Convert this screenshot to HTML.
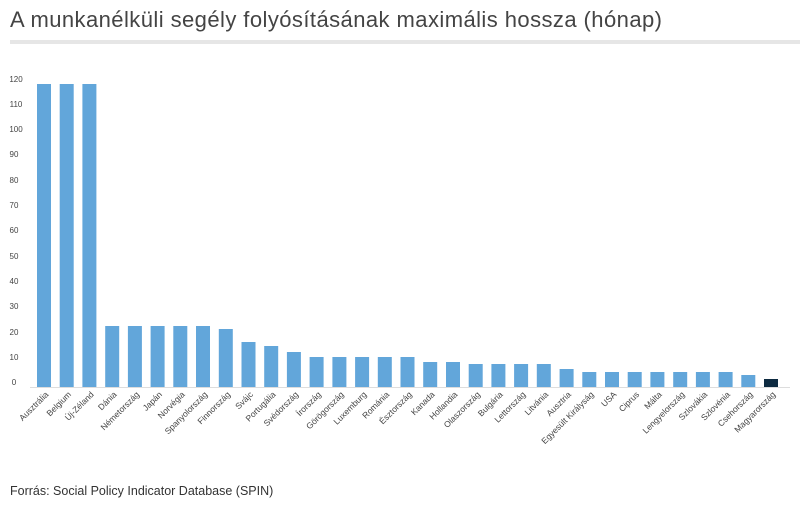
<!DOCTYPE html>
<html><head><meta charset="utf-8"><style>
body{margin:0;background:#fff;width:800px;height:507px;overflow:hidden;font-family:"Liberation Sans",sans-serif;}
</style></head><body>
<svg width="800" height="507" xmlns="http://www.w3.org/2000/svg" font-family="Liberation Sans, sans-serif">
<text x="10" y="27" font-size="22" fill="#444" textLength="652" lengthAdjust="spacing">A munkanélküli segély folyósításának maximális hossza (hónap)</text>
<rect x="10" y="40" width="790" height="4" fill="#e6e6e6"/>
<g font-size="8" fill="#444" text-anchor="middle">
<text x="14" y="385">0</text><text x="14" y="360">10</text><text x="14" y="335">20</text><text x="14" y="309">30</text><text x="14" y="284">40</text><text x="14" y="259">50</text><text x="14" y="233">60</text><text x="14" y="208">70</text><text x="14" y="183">80</text><text x="14" y="157">90</text><text x="16" y="132">100</text><text x="16" y="107">110</text><text x="16" y="82">120</text>
</g>
<line x1="30" y1="387.5" x2="790" y2="387.5" stroke="#ddd" stroke-width="1"/>
<g fill="#62a6da">
<rect x="37" y="84" width="14" height="303"/>
<rect x="59.7" y="84" width="14" height="303"/>
<rect x="82.4" y="84" width="14" height="303"/>
<rect x="105.2" y="326" width="14" height="61"/>
<rect x="127.9" y="326" width="14" height="61"/>
<rect x="150.6" y="326" width="14" height="61"/>
<rect x="173.3" y="326" width="14" height="61"/>
<rect x="196" y="326" width="14" height="61"/>
<rect x="218.8" y="329" width="14" height="58"/>
<rect x="241.5" y="342" width="14" height="45"/>
<rect x="264.2" y="346" width="14" height="41"/>
<rect x="286.9" y="352" width="14" height="35"/>
<rect x="309.6" y="357" width="14" height="30"/>
<rect x="332.4" y="357" width="14" height="30"/>
<rect x="355.1" y="357" width="14" height="30"/>
<rect x="377.8" y="357" width="14" height="30"/>
<rect x="400.5" y="357" width="14" height="30"/>
<rect x="423.2" y="362" width="14" height="25"/>
<rect x="446" y="362" width="14" height="25"/>
<rect x="468.7" y="364" width="14" height="23"/>
<rect x="491.4" y="364" width="14" height="23"/>
<rect x="514.1" y="364" width="14" height="23"/>
<rect x="536.8" y="364" width="14" height="23"/>
<rect x="559.6" y="369" width="14" height="18"/>
<rect x="582.3" y="372" width="14" height="15"/>
<rect x="605" y="372" width="14" height="15"/>
<rect x="627.7" y="372" width="14" height="15"/>
<rect x="650.4" y="372" width="14" height="15"/>
<rect x="673.2" y="372" width="14" height="15"/>
<rect x="695.9" y="372" width="14" height="15"/>
<rect x="718.6" y="372" width="14" height="15"/>
<rect x="741.3" y="375" width="14" height="12"/>
</g>
<rect x="764" y="379" width="14" height="8" fill="#0d2a40"/>
<g font-size="8.5" fill="#444" text-anchor="end">
<text transform="translate(49,395) rotate(-45)">Ausztrália</text>
<text transform="translate(71.7,395) rotate(-45)">Belgium</text>
<text transform="translate(94.4,395) rotate(-45)">Új-Zéland</text>
<text transform="translate(117.2,395) rotate(-45)">Dánia</text>
<text transform="translate(139.9,395) rotate(-45)">Németország</text>
<text transform="translate(162.6,395) rotate(-45)">Japán</text>
<text transform="translate(185.3,395) rotate(-45)">Norvégia</text>
<text transform="translate(208,395) rotate(-45)">Spanyolország</text>
<text transform="translate(230.8,395) rotate(-45)">Finnország</text>
<text transform="translate(253.5,395) rotate(-45)">Svájc</text>
<text transform="translate(276.2,395) rotate(-45)">Portugália</text>
<text transform="translate(298.9,395) rotate(-45)">Svédország</text>
<text transform="translate(321.6,395) rotate(-45)">Írország</text>
<text transform="translate(344.4,395) rotate(-45)">Görögország</text>
<text transform="translate(367.1,395) rotate(-45)">Luxemburg</text>
<text transform="translate(389.8,395) rotate(-45)">Románia</text>
<text transform="translate(412.5,395) rotate(-45)">Észtország</text>
<text transform="translate(435.2,395) rotate(-45)">Kanada</text>
<text transform="translate(458,395) rotate(-45)">Hollandia</text>
<text transform="translate(480.7,395) rotate(-45)">Olaszország</text>
<text transform="translate(503.4,395) rotate(-45)">Bulgária</text>
<text transform="translate(526.1,395) rotate(-45)">Lettország</text>
<text transform="translate(548.8,395) rotate(-45)">Litvánia</text>
<text transform="translate(571.6,395) rotate(-45)">Ausztria</text>
<text transform="translate(594.3,395) rotate(-45)">Egyesült Királyság</text>
<text transform="translate(617,395) rotate(-45)">USA</text>
<text transform="translate(639.7,395) rotate(-45)">Ciprus</text>
<text transform="translate(662.4,395) rotate(-45)">Málta</text>
<text transform="translate(685.2,395) rotate(-45)">Lengyelország</text>
<text transform="translate(707.9,395) rotate(-45)">Szlovákia</text>
<text transform="translate(730.6,395) rotate(-45)">Szlovénia</text>
<text transform="translate(753.3,395) rotate(-45)">Csehország</text>
<text transform="translate(776,395) rotate(-45)">Magyarország</text>
</g>
<text x="10" y="495" font-size="12.5" fill="#333">Forrás:  Social Policy Indicator Database (SPIN)</text>
</svg>
</body></html>
